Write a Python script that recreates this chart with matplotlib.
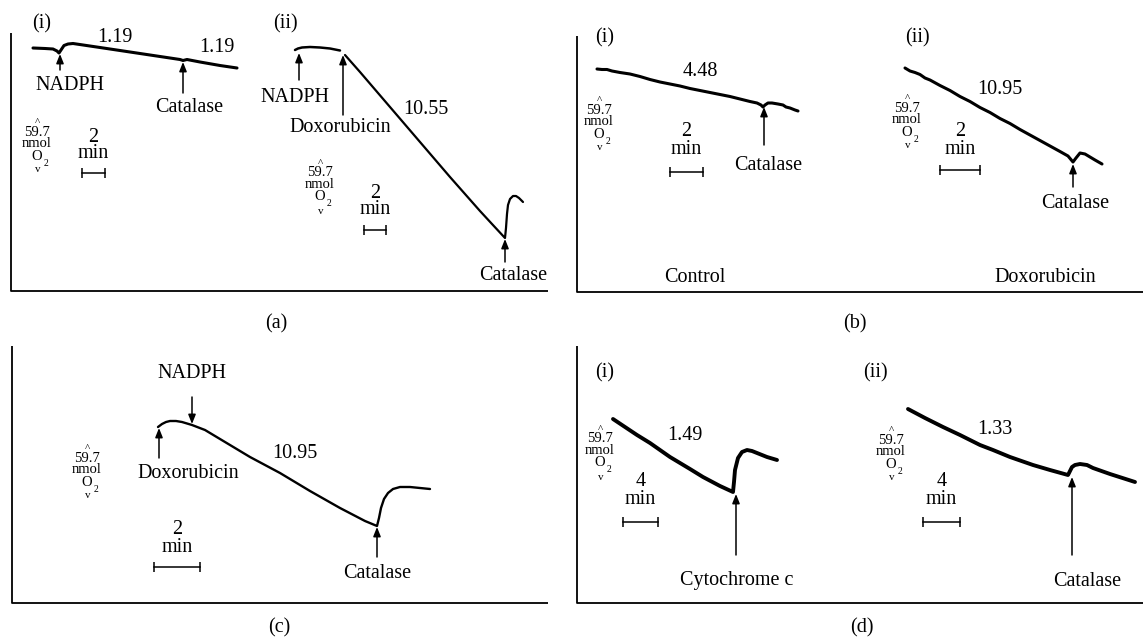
import matplotlib.pyplot as plt

plt.rcParams['font.family'] = ['Liberation Serif', 'DejaVu Serif']

# oxygen electrode traces (pixel units of the figure)
a1_x = [33, 45, 53, 57, 59, 61, 64, 68, 73, 100, 130, 160, 180, 183, 187, 200, 220, 237]
a1_y = [48, 48.5, 49, 51, 53, 50, 45.5, 44, 43.5, 47.5, 52, 56.5, 59.5, 60.5, 59.5, 62, 65.5, 68]

a2_pre_x = [295, 298, 302, 310, 320, 330, 340]
a2_pre_y = [50, 48.5, 47.5, 47, 47.5, 48.5, 50.5]
a2_x = [345, 360, 375, 390, 405, 420, 435, 450, 465, 480, 492, 505,
        506, 507, 508, 510, 513, 516, 519, 523]
a2_y = [55, 72, 89.5, 107, 124.5, 142, 159.5, 177, 194, 211, 224, 238,
        228, 214, 205, 199, 196, 196, 198, 202]

b1_x = [597, 602, 607, 612, 620, 630, 640, 650, 660, 670, 680, 690, 700, 710, 720,
        730, 740, 750, 757, 761, 763, 765, 768, 772, 778, 783, 786, 790, 795, 798]
b1_y = [69, 69.5, 69.5, 71, 72.5, 74, 76.5, 79.5, 82, 84, 86, 88.5, 90.5, 92.5, 94.5,
        96.5, 99, 101.5, 103, 105, 107, 105, 103, 103, 104, 105, 107, 108, 110, 111]

b2_x = [905, 910, 915, 920, 925, 930, 940, 950, 960, 970, 980, 990, 1000, 1010, 1020,
        1030, 1040, 1050, 1060, 1068, 1073, 1076, 1080, 1085, 1090, 1095, 1102]
b2_y = [68, 71, 72.5, 74.5, 78, 80, 85.5, 90.5, 96.5, 101.5, 107.5, 112.5, 118.5, 123.5, 129.5,
        135, 140.5, 146, 151.5, 156, 162, 158, 153, 154, 157, 160, 164]

c_x = [158, 162, 166, 170, 176, 182, 192, 205, 215, 230, 250, 280, 310, 340, 365,
       377, 379, 381, 384, 388, 393, 400, 410, 420, 430]
c_y = [427, 424, 422, 421, 421, 422, 425, 430, 436, 445, 457, 473, 491, 508, 521,
       526, 518, 508, 499, 493, 489, 487, 487, 488, 489]

d1_x = [613, 625, 637, 650, 670, 690, 703, 720, 733, 734, 735, 738, 742, 747, 752, 757, 767, 777]
d1_y = [419, 427, 435, 443, 457, 469, 477, 486, 492, 482, 470, 458, 452, 450, 451, 453, 457, 460]

d2_x = [908, 925, 943, 960, 980, 993, 1010, 1033, 1050, 1068, 1070, 1072, 1075, 1080, 1087, 1093, 1110, 1135]
d2_y = [409, 418, 427, 435, 445, 450, 457, 465, 470, 475, 471, 467, 465, 464, 465, 468, 474, 482]

rates = ['1.19', '1.19', '10.55', '4.48', '10.95', '10.95', '1.49', '1.33']

fig = plt.figure(figsize=(11.43, 6.41), dpi=100)
ax = fig.add_axes([0, 0, 1, 1])
ax.set_xlim(0, 1143)
ax.set_ylim(641, 0)
ax.axis('off')

FS = 14.5


def frame(x0, x1, ytop, ybot):
    ax.plot([x0, x0, x1], [ytop, ybot, ybot], color='k', lw=1.3, solid_capstyle='butt')


def arrow(x, ytail, yhead):
    ax.annotate('', xy=(x, yhead), xytext=(x, ytail),
                arrowprops=dict(arrowstyle='-|>,head_length=0.55,head_width=0.22',
                                lw=1.1, color='k', shrinkA=0, shrinkB=0))


def scalebar(x0, x1, y, label, ylab):
    ax.plot([x0, x1], [y, y], color='k', lw=1.1)
    ax.vlines([x0, x1], y - 5, y + 5, color='k', lw=1.1)
    ax.text((x0 + x1) / 2, ylab, label, ha='center', va='center', fontsize=FS)
    ax.text((x0 + x1) / 2, ylab + 17, 'min', ha='center', va='center', fontsize=FS)


def nmol(x, y):
    # y is the "59.7" line
    ax.text(x, y - 9.5, '^', ha='center', va='center', fontsize=8)
    ax.text(x, y, '59.7', ha='center', va='center', fontsize=10.5)
    ax.text(x, y + 11.5, 'nmol', ha='center', va='center', fontsize=10.5)
    ax.text(x, y + 24, 'O', ha='center', va='center', fontsize=10.5)
    ax.text(x + 9, y + 31, '2', ha='center', va='center', fontsize=7)
    ax.text(x + 1, y + 38, 'v', ha='center', va='center', fontsize=8)


def label(x, y, s, fs=FS):
    ax.text(x, y, s, ha='center', va='center', fontsize=fs)


# frames
frame(11, 548, 33, 291)
frame(577, 1143, 36, 292)
frame(12, 548, 346, 603)
frame(577, 1143, 346, 603)

# panel (a)
label(42, 24, '(i)')
ax.plot(a1_x, a1_y, color='k', lw=2.2, solid_capstyle='round')
label(115, 37, rates[0])
label(217, 48, rates[1])
arrow(60, 70, 54)
label(70, 85, 'NADPH')
arrow(183, 93, 62)
label(189, 108, 'Catalase')
nmol(37, 132)
scalebar(82, 105, 173, '2', 137)

label(285, 24, '(ii)')
ax.plot(a2_pre_x, a2_pre_y, color='k', lw=1.8, solid_capstyle='round')
ax.plot(a2_x, a2_y, color='k', lw=1.6, solid_capstyle='round')
label(426, 110, rates[2])
arrow(299, 80, 53)
label(295, 97, 'NADPH')
arrow(343, 115, 55)
label(340, 128, 'Doxorubicin')
nmol(320, 173)
scalebar(364, 386, 230, '2', 193)
arrow(505, 262, 239)
label(513, 275, 'Catalase')
label(276, 324, '(a)')

# panel (b)
label(605, 38, '(i)')
ax.plot(b1_x, b1_y, color='k', lw=2.2, solid_capstyle='round')
label(700, 72, rates[3])
arrow(764, 145, 107)
label(768, 165, 'Catalase')
nmol(599, 110)
scalebar(670, 703, 172, '2', 132)
label(695, 277, 'Control')

label(917, 38, '(ii)')
ax.plot(b2_x, b2_y, color='k', lw=2.2, solid_capstyle='round')
label(1000, 90, rates[4])
arrow(1073, 187, 164)
label(1075, 203, 'Catalase')
nmol(907, 108)
scalebar(940, 980, 170, '2', 132)
label(1045, 277, 'Doxorubicin')
label(855, 324, '(b)')

# panel (c)
ax.plot(c_x, c_y, color='k', lw=1.7, solid_capstyle='round')
label(192, 373, 'NADPH')
arrow(192, 397, 424)
arrow(159, 458, 428)
label(188, 473, 'Doxorubicin')
label(295, 453, rates[5])
nmol(87, 458)
scalebar(154, 200, 567, '2', 530)
arrow(377, 557, 527)
label(377, 573, 'Catalase')
label(279, 628, '(c)')

# panel (d)
label(605, 373, '(i)')
ax.plot(d1_x, d1_y, color='k', lw=2.8, solid_capstyle='round')
label(685, 436, rates[6])
nmol(600, 439)
scalebar(623, 658, 522, '4', 482)
arrow(736, 555, 494)
label(737, 581, 'Cytochrome c')

label(875, 373, '(ii)')
ax.plot(d2_x, d2_y, color='k', lw=2.8, solid_capstyle='round')
label(995, 429, rates[7])
nmol(891, 440)
scalebar(923, 960, 522, '4', 482)
arrow(1072, 555, 477)
label(1087, 581, 'Catalase')
label(862, 628, '(d)')

fig.savefig('out.png', dpi=100)
